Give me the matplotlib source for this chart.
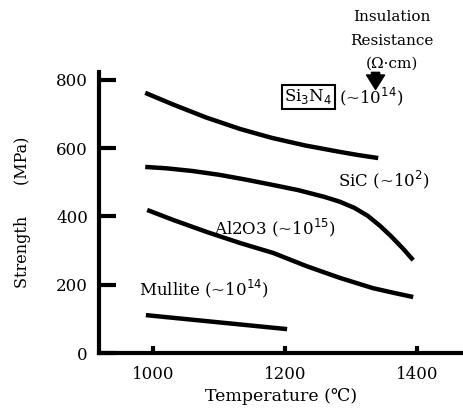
import matplotlib
matplotlib.use("Agg")
import matplotlib.pyplot as plt

# strength (MPa) vs temperature (C)
si3n4_t = [988, 1030, 1080, 1132, 1180, 1230, 1283, 1310, 1341]
si3n4_s = [762, 728, 690, 656, 630, 608, 589, 580, 571]
sic_t = [988, 1020, 1060, 1100, 1140, 1182, 1220, 1260, 1283, 1305, 1325, 1344, 1360, 1378, 1394]
sic_s = [545, 541, 533, 522, 508, 492, 477, 457, 443, 425, 402, 372, 343, 307, 272]
al2o3_t = [991, 1030, 1082, 1132, 1182, 1233, 1283, 1333, 1365, 1394]
al2o3_s = [419, 390, 354, 322, 293, 254, 220, 190, 176, 164]
mullite_t = [989, 1203]
mullite_s = [111, 70]

xticks = [1000, 1200, 1400]
yticks = [0, 200, 400, 600, 800]

plt.rcParams['font.family'] = ['DejaVu Serif', 'DejaVu Sans']

fig = plt.figure(figsize=(4.64, 4.16), dpi=100)
ax = fig.add_axes([0.2134, 0.1514, 0.7866, 0.6755])

for t, s in [(si3n4_t, si3n4_s), (sic_t, sic_s), (al2o3_t, al2o3_s), (mullite_t, mullite_s)]:
    ax.plot(t, s, color='black', lw=3.2, solid_capstyle='butt', solid_joinstyle='round')

ax.set_xlim(918, 1471)
ax.set_ylim(0, 823)
ax.set_xticks(xticks)
ax.set_yticks(yticks)
for sp in ['top', 'right']:
    ax.spines[sp].set_visible(False)
for sp in ['left', 'bottom']:
    ax.spines[sp].set_linewidth(3)
ax.tick_params(axis='y', direction='in', length=12, width=3, labelsize=12, pad=8)
ax.tick_params(axis='x', direction='in', length=5, width=3, labelsize=12, pad=9)

ax.set_xlabel('Temperature (℃)', fontsize=12.5, labelpad=4)
ax.set_ylabel('Strength      (MPa)', fontsize=11.5, labelpad=18)

# curve labels
ax.text(1235, 750, 'Si$_3$N$_4$', fontsize=12, ha='center', va='center',
        bbox=dict(boxstyle='square,pad=0.15', fc='white', ec='black', lw=1.5))
ax.text(1330, 750, '(~10$^{14}$)', fontsize=12, ha='center', va='center')
ax.text(1350, 508, 'SiC (~10$^{2}$)', fontsize=12, ha='center', va='center')
ax.text(1185, 368, 'Al2O3 (~10$^{15}$)', fontsize=12, ha='center', va='center')
ax.text(1077, 187, 'Mullite (~10$^{14}$)', fontsize=12, ha='center', va='center')

# insulation resistance header with arrow
fig.text(0.845, 0.958, 'Insulation', fontsize=11, ha='center', va='center')
fig.text(0.845, 0.901, 'Resistance', fontsize=11, ha='center', va='center')
fig.text(0.845, 0.848, '(Ω·cm)', fontsize=11, ha='center', va='center')
ax.annotate('', xy=(1337, 772), xytext=(1337, 822), annotation_clip=False,
            arrowprops=dict(arrowstyle='simple,head_width=1.0,head_length=0.8,tail_width=0.45',
                            mutation_scale=13, shrinkA=0, shrinkB=0,
                            fc='black', ec='black'))

fig.savefig('out.png', dpi=100)
